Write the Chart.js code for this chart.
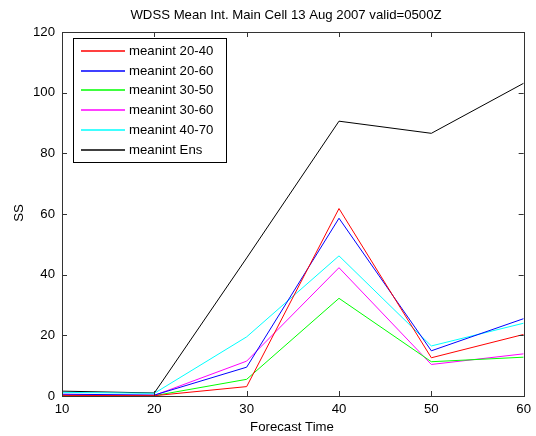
<!DOCTYPE html>
<html>
<head>
<meta charset="utf-8">
<script src="https://cdn.jsdelivr.net/npm/chart.js@4"></script>
<style>
  body { margin: 0; background: #fff; }
  canvas { display: block; }
</style>
</head>
<body>
<canvas id="chart-ss" width="536" height="436"></canvas>
<script>
// forecast times and the skill score series
var forecastTime = [10, 20, 30, 40, 50, 60];
var meanint2040 = [0.2, 0.1, 3.1, 61.8, 12.6, 20.3];
var meanint2060 = [0.6, 0.3, 9.5, 58.6, 14.9, 25.5];
var meanint3050 = [0.1, 0.1, 5.5, 32.2, 11.3, 12.8];
var meanint3060 = [0.4, 0.2, 11.5, 42.3, 10.4, 13.9];
var meanint4070 = [1.2, 0.9, 19.5, 46.2, 16.5, 24.0];
var meanintEns = [1.6, 1.0, 45.5, 90.6, 86.6, 103.1];

var seriesNames = ['meanint 20-40', 'meanint 20-60', 'meanint 30-50', 'meanint 30-60', 'meanint 40-70', 'meanint Ens'];
var seriesColors = ['#ff0000', '#0000ff', '#00ff00', '#ff00ff', '#00ffff', '#000000'];
var seriesValues = [meanint2040, meanint2060, meanint3050, meanint3060, meanint4070, meanintEns];

var titleText = 'WDSS Mean Int. Main Cell 13 Aug 2007 valid=0500Z';
var xLabel = 'Forecast Time';
var yLabel = 'SS';

var FAMILY = '"Liberation Sans", Arial, Helvetica, sans-serif';
var FSIZE = 13.2;
var FONT = FSIZE + 'px ' + FAMILY;

function pts(vals) {
	return forecastTime.map(function (t, i) { return { x: t, y: vals[i] }; });
}

var datasets = seriesValues.map(function (vals, i) {
	return {
		label: seriesNames[i],
		data: pts(vals),
		borderColor: seriesColors[i],
		backgroundColor: seriesColors[i],
		borderWidth: 1,
		tension: 0,
		pointRadius: 0,
		fill: false
	};
});

// matlab style box, inward ticks, title, axis labels and legend
var matlabLook = {
	id: 'matlabLook',
	afterDraw: function (chart) {
		var c = chart.ctx;
		var a = chart.chartArea;
		var xs = chart.scales.x, ys = chart.scales.y;
		c.save();
		c.strokeStyle = '#333';
		c.lineWidth = 1;
		c.strokeRect(Math.round(a.left) + 0.5, Math.round(a.top) + 0.5, Math.round(a.right - a.left), Math.round(a.bottom - a.top));
		c.beginPath();
		xs.ticks.forEach(function (t) {
			var px = Math.round(xs.getPixelForValue(t.value)) + 0.5;
			c.moveTo(px, a.bottom); c.lineTo(px, a.bottom - 5);
			c.moveTo(px, a.top); c.lineTo(px, a.top + 5);
		});
		ys.ticks.forEach(function (t) {
			var py = Math.round(ys.getPixelForValue(t.value)) + 0.5;
			c.moveTo(a.left, py); c.lineTo(a.left + 5, py);
			c.moveTo(a.right, py); c.lineTo(a.right - 5, py);
		});
		c.stroke();

		c.fillStyle = '#000';
		c.font = FONT;
		c.textAlign = 'center';
		c.textBaseline = 'middle';
		c.fillText(titleText, 286, 15);
		c.fillText(xLabel, 292, 427);
		c.save();
		c.translate(19, 213);
		c.rotate(-Math.PI / 2);
		c.fillText(yLabel, 0, 0);
		c.restore();

		// legend box
		var lx = 73, ly = 38.5, lw = 153, lh = 124;
		c.fillStyle = '#fff';
		c.fillRect(lx, ly, lw, lh);
		c.strokeStyle = '#000';
		c.strokeRect(lx + 0.5, ly, lw, lh);
		c.textAlign = 'left';
		for (var i = 0; i < seriesNames.length; i++) {
			var y = Math.round(50.7 + i * 19.8);
			c.beginPath();
			c.strokeStyle = seriesColors[i];
			c.lineWidth = 1.3;
			c.moveTo(81, y);
			c.lineTo(125, y);
			c.stroke();
			c.fillStyle = '#000';
			c.fillText(seriesNames[i], 129, y + 0.5);
		}
		c.restore();
	}
};

var ctx = document.getElementById('chart-ss').getContext('2d');
var grafik = new Chart(ctx, {
	type: 'line',
	data: { datasets: datasets },
	options: {
		responsive: false,
		animation: false,
		layout: { padding: { top: 32, right: 8, left: 0, bottom: 0 } },
		plugins: {
			legend: { display: false },
			title: { display: false },
			tooltip: { enabled: false }
		},
		scales: {
			x: {
				type: 'linear',
				min: 10,
				max: 60,
				afterFit: function (s) { s.height = 40; },
				grid: { display: false, drawTicks: false, tickLength: 0 },
				border: { display: false },
				ticks: {
					stepSize: 10,
					color: '#000',
					padding: 5,
					maxRotation: 0,
					font: { size: FSIZE, family: FAMILY }
				}
			},
			y: {
				min: 0,
				max: 120,
				afterFit: function (s) { s.width = 62; },
				grid: { display: false, drawTicks: false, tickLength: 0 },
				border: { display: false },
				ticks: {
					stepSize: 20,
					color: '#000',
					padding: 7,
					font: { size: FSIZE, family: FAMILY }
				}
			}
		}
	},
	plugins: [matlabLook]
});
</script>
</body>
</html>
